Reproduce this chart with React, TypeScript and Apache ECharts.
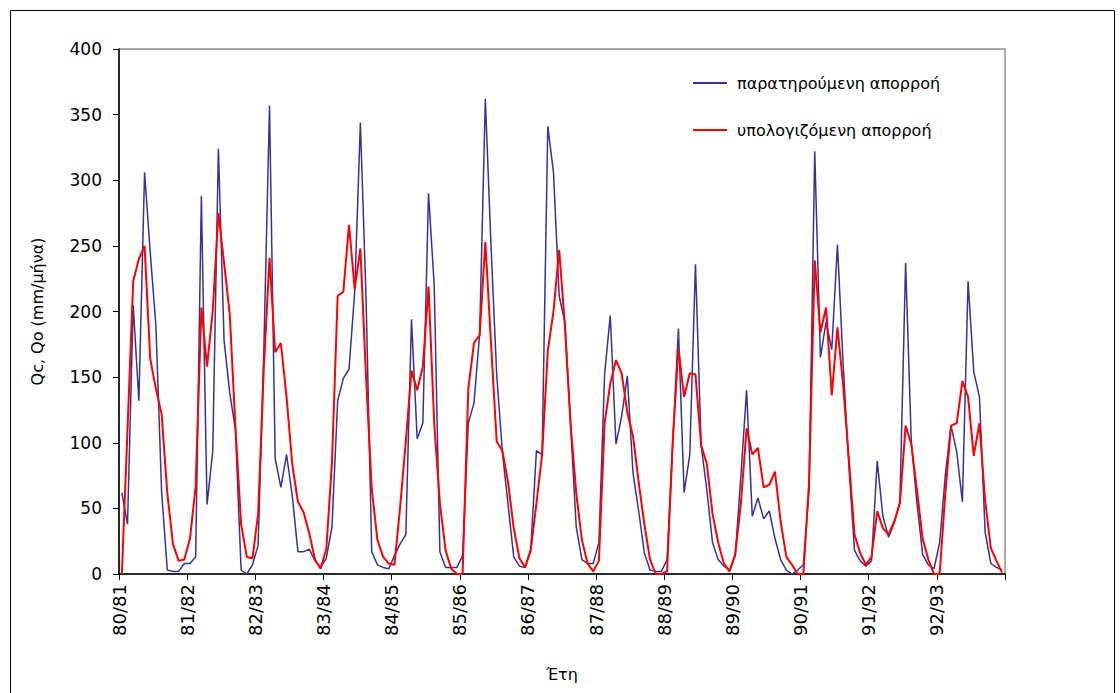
import React, { useEffect, useRef } from 'react';
import * as echarts from 'echarts';

// Hydrological years (tick labels, one per 12 months)
const years = ['80/81', '81/82', '82/83', '83/84', '84/85', '85/86', '86/87', '87/88', '88/89', '89/90', '90/91', '91/92', '92/93'];

const seriesNames = ['παρατηρούμενη απορροή', 'υπολογιζόμενη απορροή'];

// Observed monthly runoff (mm/month), 12 values per hydrological year
const observed = [
  62, 38, 205, 132, 306, 245, 189, 63, 3, 2, 2, 8,
  8, 13, 288, 53, 93, 324, 178, 138, 110, 3, 0, 7,
  22, 170, 357, 88, 66, 91, 60, 17, 17, 19, 10, 5,
  12, 36, 132, 149, 156, 215, 344, 210, 17, 7, 5, 4,
  14, 23, 30, 194, 103, 115, 290, 220, 17, 5, 5, 5,
  14, 115, 130, 183, 362, 250, 152, 93, 53, 13, 6, 5,
  19, 94, 91, 341, 306, 212, 192, 115, 36, 11, 8, 8,
  24, 152, 197, 99, 120, 151, 77, 48, 16, 3, 2, 2,
  11, 100, 187, 62, 91, 236, 98, 64, 24, 11, 6, 3,
  14, 75, 140, 44, 58, 42, 48, 27, 11, 3, 0, 3,
  7, 64, 322, 165, 192, 171, 251, 160, 83, 18, 10, 6,
  10, 86, 44, 28, 39, 55, 237, 101, 54, 15, 7, 4,
  24, 76, 113, 93, 55, 223, 154, 135, 32, 8, 5, 3,
];

// Computed monthly runoff (mm/month)
const computed = [
  0, 110, 223, 240, 250, 164, 141, 122, 62, 23, 10, 11,
  27, 67, 203, 158, 200, 275, 237, 198, 112, 38, 13, 12,
  46, 157, 241, 169, 176, 135, 84, 55, 47, 31, 11, 4,
  19, 85, 212, 215, 266, 217, 248, 150, 65, 26, 13, 8,
  7, 51, 101, 155, 140, 158, 219, 115, 54, 18, 4, 0,
  0, 141, 176, 182, 253, 176, 101, 94, 70, 35, 12, 5,
  18, 54, 91, 170, 200, 247, 190, 115, 62, 26, 8, 2,
  10, 115, 145, 163, 153, 123, 105, 70, 38, 11, 0, 0,
  2, 101, 172, 135, 153, 152, 98, 84, 46, 24, 8, 2,
  15, 54, 111, 91, 96, 66, 68, 78, 40, 13, 7, 0,
  0, 70, 239, 184, 203, 136, 188, 144, 88, 30, 16, 7,
  13, 48, 35, 30, 40, 54, 113, 99, 64, 27, 11, 0,
  0, 62, 113, 115, 147, 135, 90, 115, 56, 20, 10, 1,
];

const FONT = 'DejaVu Sans';

export default function App() {
  const ref = useRef<HTMLDivElement>(null);

  useEffect(() => {
    if (!ref.current) return;
    const chart = echarts.init(ref.current, null, { renderer: 'svg' });
    // each month sits in the middle of its slot on the month axis
    const toPoints = (arr: number[]) => arr.map((v, i) => [i + 0.5, v]);
    const months = years.length * 12;

    chart.setOption({
      animation: false,
      backgroundColor: '#ffffff',
      textStyle: { fontFamily: FONT, color: '#000' },
      grid: {
        left: 119,
        right: 115,
        top: 49,
        bottom: 119,
        show: true,
        borderColor: '#555',
        borderWidth: 1,
      },
      graphic: [
        {
          type: 'rect',
          left: 8,
          top: 8,
          shape: { width: 1104, height: 700 },
          style: { fill: 'none', stroke: '#000', lineWidth: 1 },
          silent: true,
        },
      ],
      legend: {
        orient: 'vertical',
        left: 693,
        top: 75,
        padding: 0,
        itemWidth: 34,
        itemHeight: 2,
        itemGap: 31,
        icon: 'rect',
        textStyle: { fontFamily: FONT, fontSize: 16, color: '#000', padding: [0, 0, 0, 5] },
        data: seriesNames,
      },
      xAxis: {
        type: 'value',
        min: 0,
        max: months,
        interval: 12,
        name: 'Έτη',
        nameLocation: 'middle',
        nameGap: 92,
        nameTextStyle: { fontFamily: FONT, fontSize: 16, color: '#000' },
        axisLine: { show: true, lineStyle: { color: '#000', width: 1.5 } },
        axisTick: { show: true, length: 6, lineStyle: { color: '#000', width: 1 } },
        axisLabel: {
          rotate: 90,
          margin: 10,
          fontSize: 18,
          color: '#000',
          fontFamily: FONT,
          formatter: (v: number) => years[Math.round(v / 12)] ?? '',
        },
        splitLine: { show: false },
      },
      yAxis: {
        type: 'value',
        min: 0,
        max: 400,
        interval: 50,
        name: 'Qc, Qo (mm/μήνα)',
        nameLocation: 'middle',
        nameGap: 74,
        nameTextStyle: { fontFamily: FONT, fontSize: 16, color: '#000' },
        axisLine: { show: true, lineStyle: { color: '#000', width: 1.5 } },
        axisTick: { show: true, length: 6, lineStyle: { color: '#000', width: 1 } },
        axisLabel: { margin: 17, fontSize: 17, color: '#000', fontFamily: FONT },
        splitLine: { show: false },
      },
      series: [
        {
          name: seriesNames[0],
          type: 'line',
          data: toPoints(observed),
          symbol: 'none',
          showSymbol: false,
          lineStyle: { color: '#33339a', width: 1.5 },
          itemStyle: { color: '#33339a' },
          z: 2,
        },
        {
          name: seriesNames[1],
          type: 'line',
          data: toPoints(computed),
          symbol: 'none',
          showSymbol: false,
          lineStyle: { color: '#ff0000', width: 2 },
          itemStyle: { color: '#ff0000' },
          z: 3,
        },
      ],
    });

    return () => chart.dispose();
  }, []);

  return (
    <div
      ref={ref}
      style={{ position: 'absolute', left: 0, top: 0, width: 1120, height: 693, background: '#fff' }}
    />
  );
}
